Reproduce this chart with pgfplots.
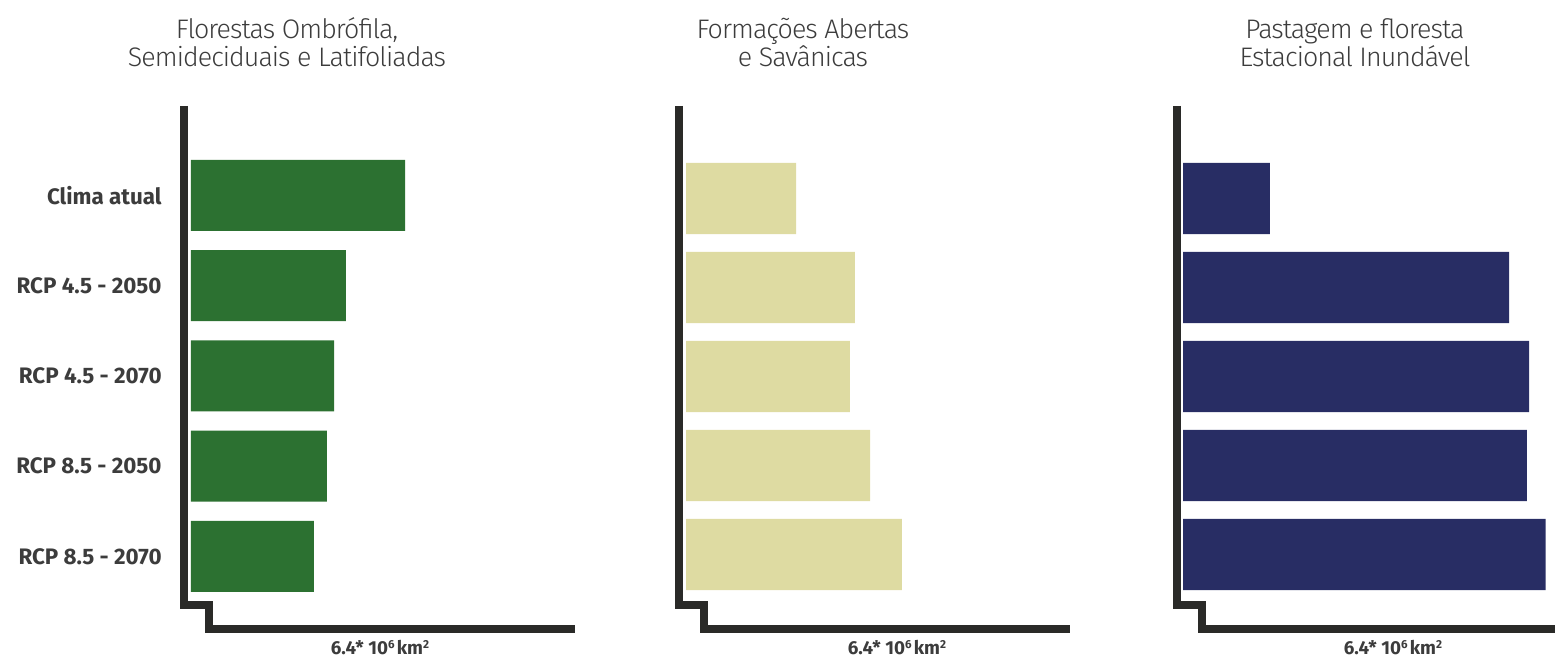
\documentclass[border=0pt]{standalone}
\usepackage{fontspec}
\setmainfont{Fira Sans}
\newfontfamily\titlefont[LetterSpace=-3.5]{Fira Sans Light}
\usepackage{pgfplots}
\pgfplotsset{compat=1.18}

\definecolor{floresta}{HTML}{2C7131}
\definecolor{savana}{HTML}{DEDBA2}
\definecolor{pastagem}{HTML}{282D64}
\definecolor{eixo}{HTML}{2A2A28}
\definecolor{texto}{HTML}{3C3C3C}

% Panel values (10^6 km^2 scale, 6.4 = full axis length)
\pgfplotstableread{
y  v
0  3.50
1  2.53
2  2.34
3  2.22
4  2.01
}\florestas
\pgfplotstableread{
y  v
0  1.80
1  2.76
2  2.68
3  3.01
4  3.53
}\savanas
\pgfplotstableread{
y  v
0  1.42
1  5.33
2  5.66
3  5.62
4  5.93
}\pastagem

\pgfplotsset{
  painel/.style={
    scale only axis,
    width=195.75pt,
    xmin=0, xmax=6.4,
    ymin=-0.5, ymax=4.5,
    y dir=reverse,
    axis x line=none,
    axis y line*=left,
    y axis line style={draw=none},
    major tick style={draw=none},
    xtick=\empty,
    ytick={0,1,2,3,4},
    yticklabels={},
    clip=false,
  },
  barras/.style={xbar, bar shift=0pt, draw=none, fill=#1},
}

\newcommand{\escala}{6.4* 10\raisebox{0.32em}{\fontsize{5.8pt}{6pt}\selectfont 6}\hspace{0.12em}km\raisebox{0.32em}{\fontsize{5.8pt}{6pt}\selectfont 2}}

\begin{document}
\begin{tikzpicture}
\useasboundingbox (0,0) rectangle (777.5pt,329pt);

% Panel 1
\begin{axis}[painel, at={(95.5pt,28.2pt)}, anchor=south west, height=225.625pt,
  yticklabels={Clima atual,RCP 4.5 - 2050,RCP 4.5 - 2070,RCP 8.5 - 2050,RCP 8.5 - 2070},
  yticklabel style={font=\fontsize{11.2pt}{13pt}\selectfont\bfseries, text=texto, inner sep=0pt, anchor=east, xshift=-14.5pt}]
  \addplot[barras=floresta, bar width=0.787] table[x=v, y=y] {\florestas};
\end{axis}

% Panel 2
\begin{axis}[painel, at={(343pt,29.5pt)}, anchor=south west, height=222.5pt]
  \addplot[barras=savana, bar width=0.798] table[x=v, y=y] {\savanas};
\end{axis}

% Panel 3
\begin{axis}[painel, at={(591.5pt,29.5pt)}, anchor=south west, height=222.5pt]
  \addplot[barras=pastagem, bar width=0.798] table[x=v, y=y] {\pastagem};
\end{axis}

% Stepped axis frames
\begin{scope}[eixo, line width=4pt, line join=miter, line cap=butt]
  \draw (91.75pt,276pt) -- (91.75pt,26.5pt) -- (104.5pt,26.5pt) -- (104.5pt,14.25pt) -- (287.5pt,14.25pt);
  \draw (339.25pt,276pt) -- (339.25pt,26.5pt) -- (352pt,26.5pt) -- (352pt,14.25pt) -- (535pt,14.25pt);
  \draw (588.25pt,276pt) -- (588.25pt,26.5pt) -- (601pt,26.5pt) -- (601pt,14.25pt) -- (790pt,14.25pt);
\end{scope}

% Titles
\begin{scope}[every node/.style={anchor=base, inner sep=0pt, text=texto, font=\titlefont\fontsize{13.4pt}{16pt}\selectfont}]
  \node at (143.5pt,309.5pt) {Florestas Ombrófila,};
  \node at (143.5pt,295.5pt) {Semideciduais e Latifoliadas};
  \node at (401.5pt,309.5pt) {Formações Abertas};
  \node at (401.5pt,295.5pt) {e Savânicas};
  \node at (677.5pt,309.5pt) {Pastagem e floresta};
  \node at (677.5pt,295.5pt) {Estacional Inundável};
\end{scope}

% Scale labels
\begin{scope}[every node/.style={anchor=base, inner sep=0pt, text=texto, font=\fontsize{9.4pt}{10pt}\selectfont\bfseries}]
  \node at (190pt,1.6pt) {\escala};
  \node at (448.5pt,1.6pt) {\escala};
  \node at (696.5pt,1.6pt) {\escala};
\end{scope}
\end{tikzpicture}
\end{document}
